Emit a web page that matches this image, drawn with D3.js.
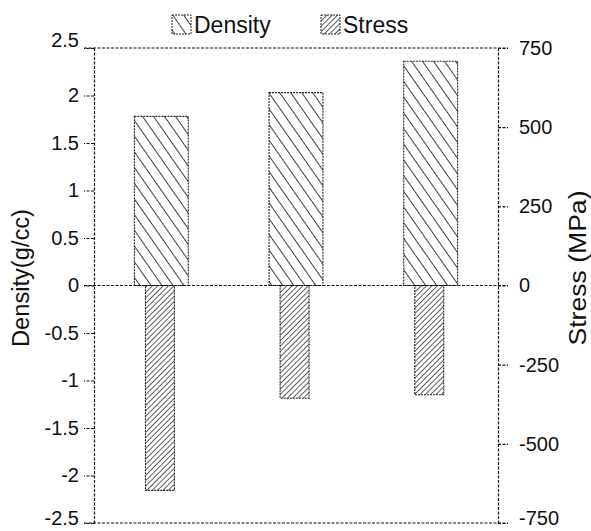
<!DOCTYPE html>
<html>
<head>
<meta charset="utf-8">
<script src="https://cdn.jsdelivr.net/npm/d3@7"></script>
<style>
  body { margin: 0; background: #fff; }
  text { font-family: "Liberation Sans", Arial, sans-serif; fill: #111; }
</style>
</head>
<body>
<svg id="chart" width="591" height="531"></svg>
<script>
var groups = ["S1", "S2", "S3"];
var density = [1.78, 2.03, 2.36];
var stress = [-647, -356, -345];
var densityTicks = [-2.5, -2, -1.5, -1, -0.5, 0, 0.5, 1, 1.5, 2, 2.5];
var stressTicks = [-750, -500, -250, 0, 250, 500, 750];

var margin = {top: 48, right: 93, bottom: 8, left: 94},
    width = 591 - margin.left - margin.right,
    height = 531 - margin.top - margin.bottom;

var svg = d3.select("#chart");

var defs = svg.append("defs");
defs.append("pattern")
    .attr("id", "hatchDensity")
    .attr("patternUnits", "userSpaceOnUse")
    .attr("width", 9).attr("height", 9)
    .attr("patternTransform", "rotate(-35)")
  .append("line")
    .attr("x1", 0).attr("y1", 0).attr("x2", 0).attr("y2", 9)
    .attr("stroke", "#000").attr("stroke-width", 1.5);
defs.append("pattern")
    .attr("id", "hatchStress")
    .attr("patternUnits", "userSpaceOnUse")
    .attr("width", 3.8).attr("height", 3.8)
    .attr("patternTransform", "rotate(45)")
  .append("line")
    .attr("x1", 0).attr("y1", 0).attr("x2", 0).attr("y2", 3.8)
    .attr("stroke", "#111").attr("stroke-width", 1.35);

var x = d3.scaleBand()
    .domain(groups)
    .range([0, width])
    .padding(0);

var yL = d3.scaleLinear()
    .domain([-2.5, 2.5])
    .range([height, 0]);

var yR = d3.scaleLinear()
    .domain([-750, 750])
    .range([height, 0]);

var g = svg.append("g")
    .attr("transform", "translate(" + margin.left + "," + margin.top + ")");

var bw = x.bandwidth();

// density bars
g.selectAll(".dbar")
    .data(density)
    .enter()
    .append("rect")
    .attr("class", "dbar")
    .attr("x", function (d, i) { return x(groups[i]) + bw * 0.3; })
    .attr("width", bw * 0.4)
    .attr("y", function (d) { return yL(Math.max(0, d)); })
    .attr("height", function (d) { return Math.abs(yL(d) - yL(0)); })
    .attr("fill", "url(#hatchDensity)")
    .attr("stroke", "#222")
    .attr("stroke-width", 1.1)
    .attr("stroke-dasharray", "2,1");

// stress bars
g.selectAll(".sbar")
    .data(stress)
    .enter()
    .append("rect")
    .attr("class", "sbar")
    .attr("x", function (d, i) { return x(groups[i]) + bw * 0.382; })
    .attr("width", bw * 0.215)
    .attr("y", function (d) { return yR(Math.max(0, d)); })
    .attr("height", function (d) { return Math.abs(yR(d) - yR(0)); })
    .attr("fill", "url(#hatchStress)")
    .attr("stroke", "#222")
    .attr("stroke-width", 1.1)
    .attr("stroke-dasharray", "2,1");

// frame lines: top, zero, bottom
g.selectAll(".hline")
    .data([2.5, 0, -2.5])
    .enter()
    .append("line")
    .attr("x1", -10).attr("x2", width + 10)
    .attr("y1", function (d) { return yL(d); })
    .attr("y2", function (d) { return yL(d); })
    .attr("stroke", "#111")
    .attr("stroke-width", 1.2)
    .attr("stroke-dasharray", "3,1.5");

var leftAxis = g.append("g")
    .call(d3.axisLeft(yL)
        .tickValues(densityTicks)
        .tickFormat(function (d) { return String(d); })
        .tickSize(10)
        .tickSizeOuter(0)
        .tickPadding(5));

var rightAxis = g.append("g")
    .attr("transform", "translate(" + width + ",0)")
    .call(d3.axisRight(yR)
        .tickValues(stressTicks)
        .tickFormat(function (d) { return String(d); })
        .tickSize(10)
        .tickSizeOuter(0)
        .tickPadding(11));

[leftAxis, rightAxis].forEach(function (ax) {
  ax.selectAll("path, line")
      .attr("stroke", "#111")
      .attr("stroke-width", 1.2)
      .attr("stroke-dasharray", "3,1.5");
  ax.selectAll("text")
      .style("font-family", "'Liberation Sans', Arial, sans-serif")
      .style("font-size", "20px")
      .attr("fill", "#111");
});

// bottom labels sit a little higher so they stay inside the page
leftAxis.selectAll(".tick text")
    .filter(function (d) { return d === -2.5; })
    .attr("dy", "0.05em");
rightAxis.selectAll(".tick text")
    .filter(function (d) { return d === -750; })
    .attr("dy", "0.05em");
// the top left label sits above the frame line
leftAxis.selectAll(".tick text")
    .filter(function (d) { return d === 2.5; })
    .attr("dy", "-0.1em");

// axis titles
svg.append("text")
    .attr("transform", "translate(29,278) rotate(-90)")
    .attr("text-anchor", "middle")
    .attr("textLength", 138)
    .attr("lengthAdjust", "spacingAndGlyphs")
    .style("font-size", "23px")
    .text("Density(g/cc)");

svg.append("text")
    .attr("transform", "translate(586,268) rotate(-90)")
    .attr("text-anchor", "middle")
    .attr("textLength", 155)
    .attr("lengthAdjust", "spacingAndGlyphs")
    .style("font-size", "23px")
    .text("Stress (MPa)");

// legend
var legend = [
  {label: "Density", fill: "url(#hatchDensity)", x: 172},
  {label: "Stress", fill: "url(#hatchStress)", x: 321}
];
var lg = svg.append("g").selectAll("g")
    .data(legend)
    .enter()
    .append("g")
    .attr("transform", function (d) { return "translate(" + d.x + ",15)"; });
lg.append("rect")
    .attr("width", 19).attr("height", 19)
    .attr("fill", function (d) { return d.fill; })
    .attr("stroke", "#222")
    .attr("stroke-dasharray", "2,1");
lg.append("text")
    .attr("x", 22).attr("y", 18)
    .style("font-size", "23px")
    .text(function (d) { return d.label; });
</script>
</body>
</html>
